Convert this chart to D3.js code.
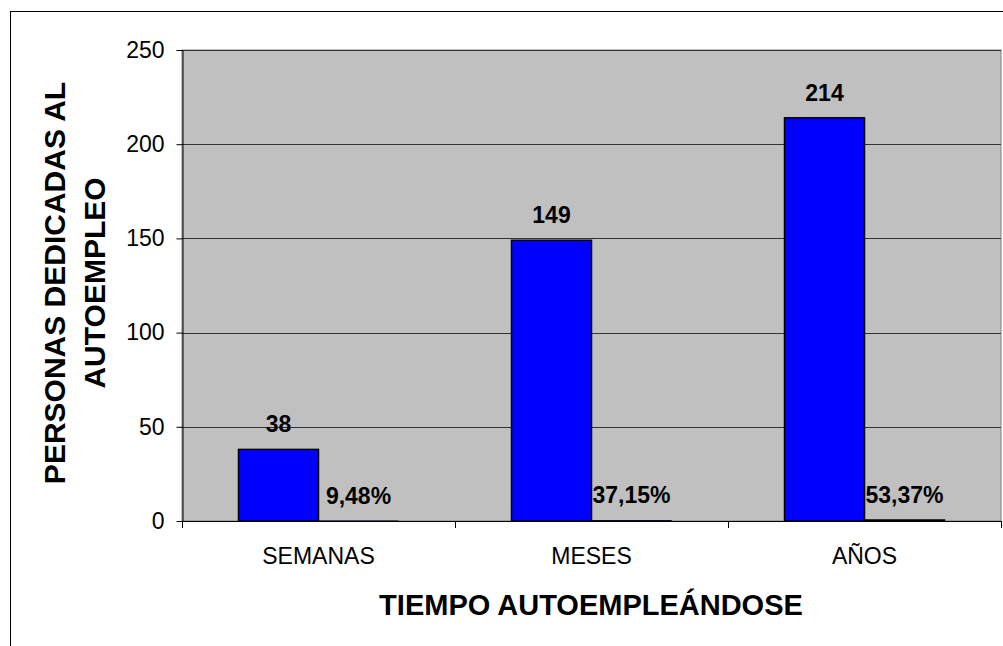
<!DOCTYPE html>
<html>
<head>
<meta charset="utf-8">
<script src="https://cdn.jsdelivr.net/npm/d3@7"></script>
<style>
  body { margin: 0; background: #fff; }
  svg { display: block; font-family: Arial, "Liberation Sans", sans-serif; }
</style>
</head>
<body>
<div id="chart"></div>
<script>
// data
const categories = ["SEMANAS", "MESES", "AÑOS"];
const personas = [38, 149, 214];
const porcentajes = [0.0948, 0.3715, 0.5337];
const porcentajeLabels = ["9,48%", "37,15%", "53,37%"];
const yTicks = [0, 50, 100, 150, 200, 250];
const seriesNames = ["personas", "porcentaje"];

const width = 1003, height = 646;
const plot = { left: 182, right: 1001, top: 50, bottom: 521 };

const svg = d3.select("#chart").append("svg")
  .attr("width", width)
  .attr("height", height);

// outer chart frame (runs off the right/bottom edge)
svg.append("rect")
  .attr("x", 10.5).attr("y", 11.5)
  .attr("width", 1010).attr("height", 660)
  .attr("fill", "white")
  .attr("stroke", "#000")
  .attr("stroke-width", 1);

const x = d3.scaleBand()
  .domain(categories)
  .range([plot.left, plot.right])
  .paddingInner(0).paddingOuter(0);

const xInner = d3.scaleBand()
  .domain(seriesNames)
  .range([x.bandwidth() / 2 - 80, x.bandwidth() / 2 + 80]);

const y = d3.scaleLinear()
  .domain([0, 250])
  .range([plot.bottom, plot.top]);

// plot background
svg.append("rect")
  .attr("x", plot.left).attr("y", plot.top)
  .attr("width", plot.right - plot.left)
  .attr("height", plot.bottom - plot.top)
  .attr("fill", "#C0C0C0")
  .attr("stroke", "#808080")
  .attr("stroke-width", 1);

// gridlines
svg.append("g")
  .selectAll("line")
  .data(yTicks.filter((t) => t > 0))
  .enter()
  .append("line")
  .attr("x1", plot.left).attr("x2", plot.right)
  .attr("y1", (d) => Math.round(y(d)) + 0.5)
  .attr("y2", (d) => Math.round(y(d)) + 0.5)
  .attr("stroke", "#333")
  .attr("stroke-width", 1);

// blue bars
svg.append("g")
  .selectAll("rect")
  .data(personas)
  .enter()
  .append("rect")
  .attr("x", (d, i) => x(categories[i]) + xInner("personas"))
  .attr("y", (d) => y(d))
  .attr("width", xInner.bandwidth())
  .attr("height", (d) => y(0) - y(d))
  .attr("fill", "#0000FF")
  .attr("stroke", "#000")
  .attr("stroke-width", 1.5);

// percentage bars (almost flat)
svg.append("g")
  .selectAll("rect")
  .data(porcentajes)
  .enter()
  .append("rect")
  .attr("x", (d, i) => x(categories[i]) + xInner("porcentaje"))
  .attr("y", (d) => y(d))
  .attr("width", xInner.bandwidth())
  .attr("height", (d) => y(0) - y(d))
  .attr("fill", "#000080")
  .attr("stroke", "#000")
  .attr("stroke-width", (d) => (d > 0.5 ? 1.5 : 0.5));

// data labels
svg.append("g")
  .selectAll("text")
  .data(personas)
  .enter()
  .append("text")
  .attr("x", (d, i) => x(categories[i]) + xInner("personas") + xInner.bandwidth() / 2)
  .attr("y", (d) => y(d) - 17)
  .attr("text-anchor", "middle")
  .attr("font-size", 23)
  .attr("font-weight", "bold")
  .text((d) => d);

svg.append("g")
  .selectAll("text")
  .data(porcentajes)
  .enter()
  .append("text")
  .attr("x", (d, i) => x(categories[i]) + xInner("porcentaje") + xInner.bandwidth() / 2)
  .attr("y", (d) => y(d) - 17)
  .attr("text-anchor", "middle")
  .attr("font-size", 23)
  .attr("font-weight", "bold")
  .text((d, i) => porcentajeLabels[i]);

// y axis
const yAxis = svg.append("g")
  .attr("transform", `translate(${plot.left + 0.5},0)`)
  .call(d3.axisLeft(y).tickValues(yTicks).tickSize(6).tickPadding(12).tickSizeOuter(0));
yAxis.selectAll("text")
  .attr("font-size", 23)
  .attr("font-family", "Arial, 'Liberation Sans', sans-serif")
  .attr("fill", "#000");
yAxis.selectAll("line, path").attr("stroke", "#000");

// x axis line + boundary ticks
const xAxisG = svg.append("g");
xAxisG.append("line")
  .attr("x1", plot.left).attr("x2", plot.right)
  .attr("y1", plot.bottom + 0.5).attr("y2", plot.bottom + 0.5)
  .attr("stroke", "#000");
const bounds = categories.map((c) => x(c)).concat([x.range()[1]]);
xAxisG.selectAll("line.tick")
  .data(bounds)
  .enter()
  .append("line")
  .attr("class", "tick")
  .attr("x1", (d) => Math.round(d) + 0.5).attr("x2", (d) => Math.round(d) + 0.5)
  .attr("y1", plot.bottom).attr("y2", plot.bottom + 7)
  .attr("stroke", "#000");
xAxisG.selectAll("text")
  .data(categories)
  .enter()
  .append("text")
  .attr("x", (d) => x(d) + x.bandwidth() / 2)
  .attr("y", 564)
  .attr("text-anchor", "middle")
  .attr("font-size", 23)
  .text((d) => d);

// axis titles
svg.append("text")
  .attr("x", 591)
  .attr("y", 615)
  .attr("text-anchor", "middle")
  .attr("font-size", 29)
  .attr("font-weight", "bold")
  .text("TIEMPO AUTOEMPLEÁNDOSE");

const yTitle = svg.append("text")
  .attr("transform", "translate(0,283) rotate(-90)")
  .attr("text-anchor", "middle")
  .attr("font-size", 30)
  .attr("font-weight", "bold");
yTitle.append("tspan").attr("x", 0).attr("y", 65).text("PERSONAS DEDICADAS AL");
yTitle.append("tspan").attr("x", 0).attr("y", 105).text("AUTOEMPLEO");
</script>
</body>
</html>
